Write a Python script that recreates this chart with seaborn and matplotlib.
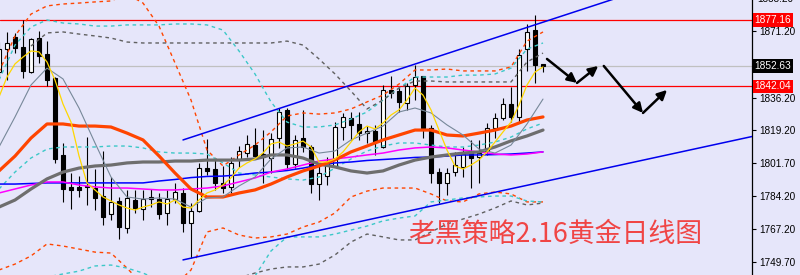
import numpy as np
import pandas as pd
import matplotlib
matplotlib.use("Agg")
import matplotlib.pyplot as plt
import matplotlib.transforms as mtransforms
import seaborn as sns

# ---------------- data ----------------
opens = [1849.6, 1861.7, 1868.1, 1862.8, 1849.6, 1867.5, 1859.1, 1846.5, 1806.0, 1789.2,
         1789.2, 1789.7, 1788.6, 1784.4, 1775.0, 1781.8, 1767.6, 1782.3, 1777.6, 1783.9,
         1782.8, 1775.5, 1782.8, 1786.0, 1770.2, 1776.5, 1799.1, 1798.6, 1791.3, 1789.2,
         1803.9, 1807.0, 1811.2, 1806.5, 1804.4, 1814.9, 1829.7, 1801.2, 1814.9, 1810.2,
         1790.7, 1794.9, 1800.2, 1820.7, 1825.4, 1822.3, 1817.5, 1818.6, 1810.2, 1840.2,
         1839.6, 1833.3, 1842.8, 1847.5, 1820.2, 1797.0, 1791.3, 1797.0, 1799.7, 1807.0,
         1804.9, 1808.1, 1820.2, 1825.4, 1832.8, 1826.0, 1861.7, 1871.7, 1853.9]
highs = [1865.4, 1870.7, 1870.2, 1877.0, 1867.5, 1871.2, 1865.9, 1847.0, 1812.3, 1796.5,
         1794.9, 1815.5, 1798.6, 1808.1, 1794.4, 1783.9, 1787.6, 1787.6, 1787.6, 1788.1,
         1786.0, 1787.6, 1791.3, 1788.6, 1780.7, 1801.8, 1814.4, 1803.9, 1800.2, 1804.9,
         1810.7, 1816.5, 1820.2, 1819.1, 1817.5, 1830.7, 1830.7, 1816.5, 1829.7, 1811.2,
         1800.7, 1804.9, 1823.3, 1828.1, 1828.6, 1828.6, 1821.2, 1821.8, 1842.8, 1847.5,
         1841.8, 1843.9, 1853.3, 1847.5, 1821.8, 1799.1, 1799.1, 1807.6, 1810.2, 1813.9,
         1813.9, 1822.8, 1828.1, 1836.0, 1841.8, 1861.7, 1874.9, 1879.6, 1853.9]
lows = [1846.5, 1845.4, 1859.6, 1846.5, 1849.1, 1854.4, 1842.3, 1801.8, 1781.3, 1777.6,
        1783.9, 1779.7, 1777.1, 1769.2, 1771.8, 1761.8, 1765.0, 1775.5, 1771.8, 1778.6,
        1772.3, 1769.2, 1780.7, 1765.5, 1751.8, 1776.0, 1795.5, 1787.6, 1786.0, 1786.0,
        1799.7, 1804.9, 1804.9, 1791.3, 1796.5, 1809.7, 1798.6, 1799.1, 1807.6, 1786.0,
        1782.3, 1790.2, 1799.7, 1813.9, 1813.9, 1813.9, 1812.3, 1806.0, 1809.7, 1836.0,
        1828.6, 1829.7, 1834.9, 1814.9, 1791.3, 1780.7, 1784.9, 1794.9, 1794.4, 1788.6,
        1791.3, 1806.0, 1814.9, 1824.4, 1823.3, 1822.8, 1850.2, 1843.9, 1849.6]
closes = [1861.7, 1864.9, 1862.3, 1850.2, 1867.0, 1858.1, 1845.4, 1803.9, 1788.1, 1787.6,
          1787.6, 1789.2, 1783.4, 1773.4, 1781.3, 1768.1, 1783.4, 1778.1, 1782.8, 1782.8,
          1775.0, 1782.8, 1786.5, 1770.2, 1776.5, 1799.1, 1797.6, 1791.3, 1788.6, 1801.8,
          1808.1, 1811.8, 1805.5, 1804.9, 1814.4, 1828.6, 1801.2, 1813.9, 1810.2, 1790.7,
          1796.5, 1801.8, 1820.7, 1826.0, 1821.8, 1817.5, 1818.6, 1812.8, 1840.2, 1838.6,
          1833.9, 1842.3, 1847.0, 1820.2, 1796.5, 1791.3, 1796.5, 1800.7, 1806.5, 1804.4,
          1807.0, 1820.2, 1825.4, 1832.8, 1826.0, 1858.6, 1870.7, 1853.3, 1852.6]

# short moving average (yellow), one value per candle
ma_yellow = [1836.5, 1847.0, 1853.9, 1857.5, 1860.7, 1860.2, 1854.9, 1845.4, 1832.8, 1823.3,
             1805.5, 1791.3, 1787.6, 1783.9, 1781.8, 1779.7, 1778.1, 1777.0, 1778.6, 1779.7,
             1781.3, 1780.2, 1782.3, 1778.6, 1778.1, 1782.3, 1786.0, 1787.6, 1790.2, 1793.9,
             1799.1, 1801.8, 1803.9, 1807.0, 1811.8, 1812.8, 1810.7, 1811.8, 1813.3, 1810.2,
             1802.3, 1802.3, 1803.9, 1807.6, 1812.8, 1818.1, 1821.2, 1819.7, 1822.8, 1827.0,
             1829.7, 1834.9, 1841.2, 1837.5, 1829.7, 1819.1, 1808.6, 1800.2, 1798.6, 1800.7,
             1803.4, 1807.6, 1812.8, 1818.1, 1823.3, 1832.3, 1842.8, 1849.6, 1852.3]

# other lines, sampled every second candle (candle 0, 2, 4 ... 68)
ma_orange = [1797.6, 1805.4, 1814.9, 1822.3, 1822.3, 1821.2, 1821.2, 1820.7, 1817.5, 1813.9,
             1805.5, 1796.5, 1788.1, 1783.9, 1783.9, 1786.0, 1787.6, 1790.7, 1794.4, 1797.6,
             1800.2, 1803.4, 1807.6, 1810.7, 1813.9, 1816.5, 1819.1, 1819.1, 1816.5, 1816.0,
             1817.5, 1819.1, 1821.2, 1824.4, 1826.0]
ma_slate = [1810.2, 1826.0, 1842.8, 1851.7, 1846.0, 1830.7, 1812.3, 1794.4, 1783.9, 1782.8,
            1783.4, 1782.8, 1778.6, 1783.4, 1783.9, 1789.7, 1794.4, 1803.9, 1809.7, 1810.2,
            1807.0, 1808.1, 1813.9, 1817.5, 1821.2, 1828.6, 1830.7, 1828.1, 1821.8, 1816.5,
            1809.1, 1807.0, 1811.2, 1822.3, 1835.4]
ma_dimgray = [1778.6, 1782.3, 1788.1, 1793.4, 1797.0, 1799.1, 1800.2, 1800.7, 1801.8, 1802.3,
              1802.3, 1802.8, 1802.8, 1803.3, 1803.3, 1803.3, 1803.9, 1806.0, 1806.0, 1804.4,
              1801.2, 1799.7, 1797.6, 1796.5, 1797.6, 1800.7, 1803.3, 1804.9, 1806.0, 1807.0,
              1807.6, 1810.2, 1813.4, 1816.0, 1819.1]
ma_magenta = [1786.0, 1788.1, 1790.2, 1791.8, 1791.8, 1790.2, 1789.2, 1788.6, 1788.6, 1788.1,
              1787.6, 1787.6, 1788.1, 1788.6, 1789.7, 1791.8, 1793.9, 1797.0, 1798.6, 1800.7,
              1802.8, 1803.9, 1804.9, 1806.0, 1807.0, 1808.6, 1809.7, 1810.2, 1809.7, 1808.6,
              1807.6, 1806.5, 1806.0, 1806.5, 1807.6]
ma_blue = [1790.7, 1790.7, 1791.0, 1791.3, 1791.3, 1791.3, 1791.3, 1791.3, 1791.3, 1791.3,
           1792.3, 1793.1, 1794.1, 1794.7, 1794.9, 1795.5, 1796.5, 1797.0, 1797.8, 1799.1,
           1800.7, 1801.8, 1802.3, 1803.1, 1803.6, 1804.1, 1804.7, 1804.9, 1805.4, 1806.0,
           1806.0, 1806.2, 1806.5, 1807.0, 1807.6]
band_orange_up = [1849.6, 1868.6, 1880.1, 1884.4, 1885.4, 1885.9, 1886.5, 1887.0, 1890.7, 1885.9,
                  1873.8, 1854.4, 1834.9, 1808.6, 1800.2, 1806.0, 1811.2, 1818.1, 1826.5, 1828.1,
                  1827.5, 1828.1, 1830.2, 1833.9, 1837.5, 1843.3, 1850.7, 1850.7, 1851.2, 1850.2,
                  1850.2, 1850.2, 1852.3, 1865.9, 1870.7]
band_orange_lo = [1745.5, 1748.6, 1752.9, 1759.2, 1758.1, 1756.5, 1754.9, 1754.4, 1746.5, 1737.6,
                  1735.0, 1737.6, 1745.5, 1765.5, 1767.6, 1763.9, 1762.3, 1762.9, 1764.4, 1768.1,
                  1770.7, 1775.5, 1783.9, 1787.0, 1788.6, 1788.6, 1788.6, 1785.5, 1781.8, 1781.3,
                  1785.5, 1786.5, 1785.5, 1781.3, 1781.3]
band_cyan_up = [1845.4, 1863.8, 1873.3, 1877.0, 1875.4, 1874.9, 1873.8, 1873.8, 1874.4, 1874.4,
                1874.4, 1874.9, 1874.9, 1874.4, 1871.7, 1860.7, 1848.6, 1833.9, 1823.3, 1820.7,
                1820.7, 1821.8, 1824.9, 1828.6, 1834.9, 1841.2, 1847.0, 1847.0, 1847.0, 1848.0,
                1848.0, 1848.6, 1851.7, 1861.7, 1864.9]
band_cyan_mid = [1788.1, 1797.0, 1804.4, 1809.1, 1810.2, 1810.2, 1810.2, 1810.7, 1810.7, 1809.7,
                 1807.6, 1807.0, 1807.0, 1806.5, 1801.8, 1796.5, 1795.5, 1794.4, 1793.4, 1792.8,
                 1794.4, 1799.1, 1803.9, 1808.1, 1810.7, 1812.3, 1812.3, 1811.2, 1810.2, 1810.2,
                 1811.2, 1812.8, 1815.4, 1819.7, 1822.8]
band_cyan_lo = [1732.3, 1736.0, 1739.2, 1741.8, 1743.4, 1744.9, 1747.6, 1748.1, 1746.5, 1743.9,
                1740.2, 1737.6, 1736.0, 1736.0, 1736.5, 1738.1, 1742.3, 1755.5, 1762.9, 1762.9,
                1762.9, 1764.4, 1766.5, 1768.6, 1771.3, 1772.8, 1773.9, 1781.3, 1782.3, 1783.4,
                1783.9, 1784.4, 1784.4, 1781.8, 1781.3]
# gray dashed band: upper from candle 4, lower from candle 28 (every second candle)
band_gray_up = [1863.3, 1870.2, 1870.7, 1869.6, 1868.6, 1867.5, 1865.4, 1864.9, 1864.9, 1864.9,
                1864.9, 1864.9, 1864.9, 1864.9, 1864.9, 1864.9, 1865.9, 1863.8, 1856.5, 1848.6,
                1839.6, 1830.2, 1834.9, 1841.2, 1844.9, 1844.9, 1844.4, 1844.4, 1844.4, 1844.4,
                1844.4, 1854.9, 1859.6]
band_gray_lo = [1737.6, 1741.3, 1743.9, 1746.0, 1747.1, 1747.1, 1748.6, 1753.4, 1760.2, 1764.4,
                1762.9, 1761.3, 1761.3, 1765.5, 1769.7, 1772.3, 1774.9, 1778.1, 1781.8, 1779.7,
                1780.7]

# channel trend lines (candle index, price)
trend_up_x, trend_up_y = [23, 78], [1813.9, 1889.6]
trend_lo_x, trend_lo_y = [23, 95], [1750.8, 1816.5]

# horizontal levels
level_red = [1877.16, 1842.04]
level_now = 1852.63

# forecast arrows (candle index, price)
arrow_pts_x = [68.5, 72.25, 74.9, 75.6, 80.5, 83.5]
arrow_pts_y = [1856.5, 1843.9, 1852.8, 1852.8, 1828.1, 1840.2]

tick_vals = [1871.20, 1836.20, 1819.20, 1801.70, 1784.20, 1767.20, 1749.70]
title_text = "老黑策略2.16黄金日线图"

# ---------------- drawing ----------------
sns.set_style("white")
plt.rcParams["font.family"] = ["Liberation Sans", "DejaVu Sans"]

BG = "#E6E6FA"
fig = plt.figure(figsize=(8, 2.75), dpi=100)
fig.patch.set_facecolor(BG)
ax = fig.add_axes([0, 0, 752 / 800, 1])
ax.set_facecolor(BG)

n = len(opens)
idx = np.arange(n)
idx2 = np.arange(0, n, 2)

# horizontal levels
for lv in level_red:
    ax.axhline(lv, color="#FF0000", lw=0.9, zorder=2)
ax.axhline(level_now, color="#C0C0C0", lw=0.9, zorder=2)

# candles
o = np.array(opens); c = np.array(closes)
h = np.array(highs); l = np.array(lows)
ax.vlines(idx, l, h, color="black", lw=0.8, zorder=4)
bottom = np.minimum(o, c)
height = np.maximum(np.abs(c - o), 0.6)
faces = np.where(c >= o, "white", "black")
ax.bar(idx, height, bottom=bottom, width=0.62, color=faces, edgecolor="black",
       linewidth=0.8, zorder=5)

DASH = (0, (2.6, 2.6))
def line(x, y, color, lw, ls="-", z=6):
    sns.lineplot(x=x, y=y, ax=ax, color=color, linewidth=lw, linestyle=ls,
                 estimator=None, sort=False, zorder=z)

# dashed bands
line(idx2, band_orange_up, "#FF4500", 1.0, DASH)
line(idx2, band_orange_lo, "#FF4500", 1.0, DASH)
line(idx2, band_cyan_up, "#3CC8C8", 1.0, DASH)
line(idx2, band_cyan_mid, "#3CC8C8", 1.0, DASH)
line(idx2, band_cyan_lo, "#3CC8C8", 1.0, DASH)
line(idx2[2:], band_gray_up, "#606060", 1.0, DASH)
line(idx2[14:], band_gray_lo, "#606060", 1.0, DASH)

# moving averages
line(idx2, ma_blue, "#0000FF", 1.1)
line(idx2, ma_magenta, "#FF00FF", 1.1)
line(idx2, ma_dimgray, "#6E6E6E", 2.3)
line(idx2, ma_orange, "#FF4500", 2.3)
line(idx2, ma_slate, "#778899", 0.8)
line(idx, ma_yellow, "#FFD700", 0.9, z=7)

# channel
line(trend_up_x, trend_up_y, "#0000EE", 1.1)
line(trend_lo_x, trend_lo_y, "#0000EE", 1.1)

# arrows
for k in range(0, len(arrow_pts_x) - 1):
    if k == 2:
        continue
    ax.annotate("", xy=(arrow_pts_x[k + 1], arrow_pts_y[k + 1]),
                xytext=(arrow_pts_x[k], arrow_pts_y[k]),
                arrowprops=dict(arrowstyle="-|>", color="black", lw=1.8,
                                mutation_scale=14, shrinkA=0, shrinkB=0),
                zorder=8)

ax.set_xlim(0.125, 94.125)
ax.set_ylim(1742.86, 1887.51)

# axis styling
for s in ["top", "left", "bottom"]:
    ax.spines[s].set_visible(False)
ax.spines["right"].set_color("black")
ax.spines["right"].set_linewidth(0.9)
ax.set_xticks([])
ax.set_xlabel(""); ax.set_ylabel("")
ax.yaxis.tick_right()
ax.set_yticks(tick_vals)
ax.set_yticklabels([f"{v:.2f}" for v in tick_vals])
ax.tick_params(axis="y", direction="out", length=3, width=0.8, pad=2,
               labelsize=7.2, colors="black")

trans = mtransforms.blended_transform_factory(ax.transAxes, ax.transData)
ax.text(1.0065, 1888.2, "1888.20", transform=trans, ha="left", va="center",
        fontsize=7.2, color="black", clip_on=False)
for lv, fc in [(level_red[0], "#FF0000"), (level_now, "black"), (level_red[1], "#FF0000")]:
    ax.text(1.0035, lv, f"{lv:.2f}", transform=trans, ha="left", va="center",
            fontsize=7.3, color="white", clip_on=False, zorder=10,
            bbox=dict(boxstyle="square,pad=0.18", fc=fc, ec="none"))

# title text
ax.text(51.2, 1764.4, title_text, ha="left", va="center", fontsize=19.4,
        color="#F04545", family=["Noto Sans CJK SC", "DejaVu Sans"], zorder=9)

fig.savefig("out.png", dpi=100, facecolor=BG)
